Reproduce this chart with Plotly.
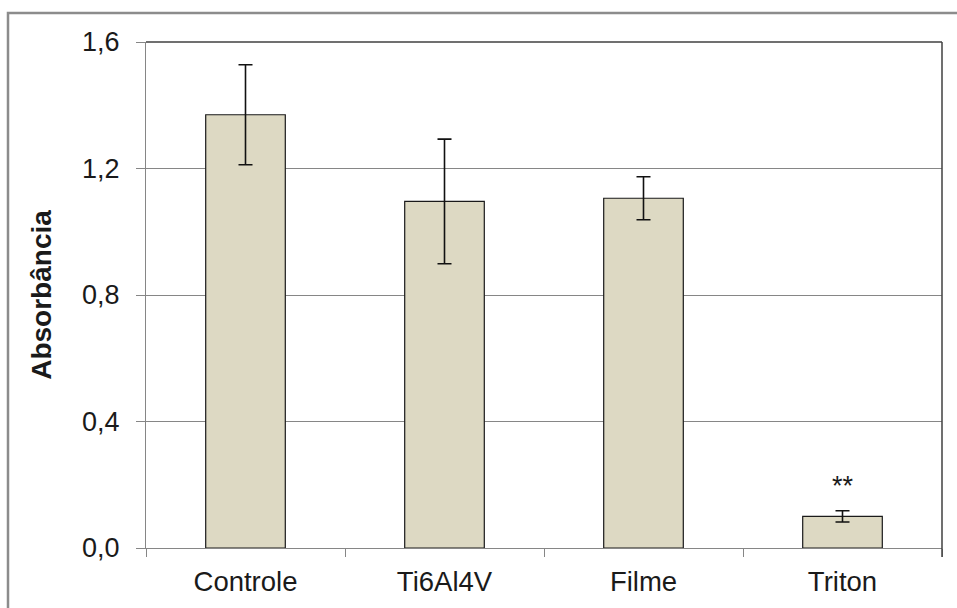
import plotly.graph_objects as go

# Absorbance per group (mean and error)
grupos = ["Controle", "Ti6Al4V", "Filme", "Triton"]
absorbancia = [1.370, 1.096, 1.106, 0.100]
erro = [0.158, 0.197, 0.068, 0.018]
y_ticks = [0.0, 0.4, 0.8, 1.2, 1.6]
y_tick_text = ["0,0", "0,4", "0,8", "1,2", "1,6"]
marca_signif = "**"

W, H = 957, 608
L, R, T, B = 146, 15, 42, 60
pw, ph = W - L - R, H - T - B

def px_x(v):
    return (v - L) / pw

def px_y(v):
    return (H - B - v) / ph

FONT = "Liberation Sans, Arial, sans-serif"
GRID = "#868686"
TXT = "#1a1a1a"

fig = go.Figure(
    go.Bar(
        x=grupos,
        y=absorbancia,
        width=0.40,
        marker=dict(color="#DDD9C3", line=dict(color=TXT, width=1.2)),
        error_y=dict(type="data", array=erro, visible=True,
                     color="#111111", thickness=1.6, width=7),
    )
)

fig.add_annotation(
    x=grupos[3], y=absorbancia[3] + erro[3],
    text=marca_signif, showarrow=False,
    yanchor="bottom", yshift=8,
    font=dict(family=FONT, size=27, color=TXT),
)

# plot-area frame (top and right edges are darker than the axes)
fig.add_shape(type="line", xref="paper", yref="paper",
              x0=0, x1=1, y0=1, y1=1, line=dict(color="#404040", width=1.5))
fig.add_shape(type="line", xref="paper", yref="paper",
              x0=1, x1=1, y0=px_y(557), y1=1, line=dict(color="#404040", width=1.5))
# outer chart border
fig.add_shape(type="rect", xref="paper", yref="paper",
              x0=px_x(8), x1=px_x(980), y0=px_y(640), y1=px_y(13),
              line=dict(color="#8c8c8c", width=2.5), layer="below")

fig.update_layout(
    width=W, height=H,
    margin=dict(l=L, r=R, t=T, b=B),
    paper_bgcolor="white", plot_bgcolor="white",
    showlegend=False,
    font=dict(family=FONT, size=27, color=TXT),
    xaxis=dict(
        showline=True, linecolor=GRID, linewidth=1.2,
        ticks="outside", tickson="boundaries", ticklen=8, tickcolor=GRID,
        tickfont=dict(size=27.5, family=FONT, color=TXT),
        ticklabelstandoff=9,
        showgrid=False,
    ),
    yaxis=dict(
        range=[0, 1.6],
        tickvals=y_ticks, ticktext=y_tick_text,
        showline=True, linecolor=GRID, linewidth=1.2,
        ticks="outside", ticklen=9, tickcolor=GRID,
        showgrid=True, gridcolor=GRID, gridwidth=1,
        zeroline=False,
        tickfont=dict(size=27, family=FONT, color=TXT),
        ticklabelstandoff=11,
        title=dict(text="<b>Absorbância</b>", standoff=22,
                   font=dict(size=28, family=FONT, color=TXT)),
    ),
)

fig.write_html("out.html")
